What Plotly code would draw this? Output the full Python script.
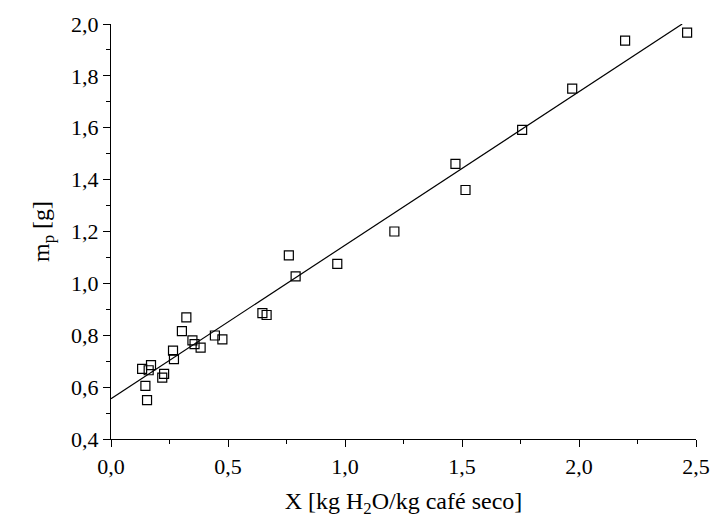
import plotly.graph_objects as go
import numpy as np

# Experimental data: X [kg H2O/kg dry coffee] vs m_p [g]
x_data = [0.133, 0.161, 0.171, 0.147, 0.154, 0.227, 0.219, 0.265, 0.269,
          0.303, 0.322, 0.348, 0.357, 0.383, 0.444, 0.476, 0.647, 0.665,
          0.760, 0.789, 0.967, 1.211, 1.472, 1.515, 1.757, 1.971, 2.197, 2.462]
y_data = [0.670, 0.665, 0.685, 0.605, 0.550, 0.651, 0.637, 0.741, 0.708,
          0.816, 0.869, 0.780, 0.766, 0.752, 0.799, 0.784, 0.885, 0.878,
          1.108, 1.027, 1.075, 1.200, 1.461, 1.360, 1.592, 1.751, 1.936, 1.967]

# Linear fit
fit_intercept = 0.555
fit_slope = 0.592
fit_x_range = [0.0, 2.441]

x_ticks = [0.0, 0.5, 1.0, 1.5, 2.0, 2.5]
y_ticks = [0.4, 0.6, 0.8, 1.0, 1.2, 1.4, 1.6, 1.8, 2.0]

fit_x = np.array(fit_x_range)
fit_y = fit_intercept + fit_slope * fit_x

fig = go.Figure()
fig.add_trace(go.Scatter(
    x=fit_x, y=fit_y, mode="lines",
    line=dict(color="black", width=1.2), showlegend=False, hoverinfo="skip"))
fig.add_trace(go.Scatter(
    x=x_data, y=y_data, mode="markers",
    marker=dict(symbol="square-open", size=9, color="black",
                line=dict(color="black", width=1.2)),
    showlegend=False))

font_family = "Liberation Serif"

def fmt(v):
    return f"{v:.1f}".replace(".", ",")

fig.update_layout(
    width=722, height=521,
    margin=dict(l=111, r=16, t=24, b=80),
    paper_bgcolor="white", plot_bgcolor="white",
    font=dict(family=font_family, color="black", size=22),
    xaxis=dict(
        range=[0, 2.5], showgrid=False, zeroline=False,
        showline=True, linecolor="black", linewidth=1.3,
        tickmode="array", tickvals=x_ticks, ticktext=[fmt(v) for v in x_ticks],
        ticks="outside", ticklen=7, tickwidth=1.2, tickcolor="black",
        minor=dict(tickmode="linear", tick0=0, dtick=0.25, ticks="outside",
                   ticklen=4, tickwidth=1.2, tickcolor="black", showgrid=False),
        tickfont=dict(family=font_family, size=22, color="black"),
        title=dict(text="X [kg H<sub>2</sub>O/kg café seco]",
                   font=dict(family=font_family, size=24, color="black"),
                   standoff=14),
    ),
    yaxis=dict(
        range=[0.4, 2.0], showgrid=False, zeroline=False,
        showline=True, linecolor="black", linewidth=1.3,
        tickmode="array", tickvals=y_ticks, ticktext=[fmt(v) for v in y_ticks],
        ticks="outside", ticklen=7, tickwidth=1.2, tickcolor="black",
        minor=dict(tickmode="linear", tick0=0.4, dtick=0.1, ticks="outside",
                   ticklen=4, tickwidth=1.2, tickcolor="black", showgrid=False),
        tickfont=dict(family=font_family, size=22, color="black"),
        title=dict(text="m<sub>p</sub> [g]",
                   font=dict(family=font_family, size=24, color="black"),
                   standoff=14),
    ),
)

fig.write_html("out.html")
